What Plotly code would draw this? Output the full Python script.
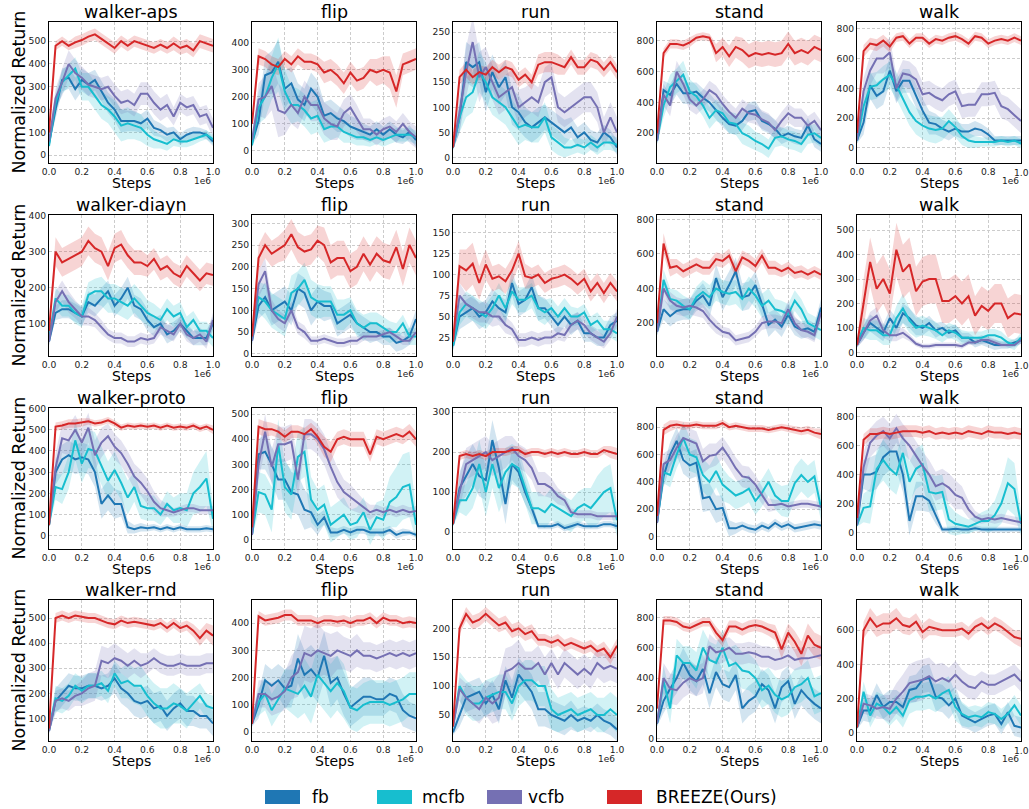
import plotly.graph_objects as go

# ---------------- data ----------------
steps = [0, 40000, 80000, 120000, 160000, 200000, 240000, 280000, 320000, 360000,
         400000, 440000, 480000, 520000, 560000, 600000, 640000, 680000, 720000,
         760000, 800000, 840000, 880000, 920000, 960000, 1000000]

methods = ["fb", "mcfb", "vcfb", "breeze"]
method_labels = ["fb", "mcfb", "vcfb", "BREEZE(Ours)"]

algos = ["aps", "diayn", "proto", "rnd"]
tasks = ["all", "flip", "run", "stand", "walk"]
row_titles = ["walker-aps", "walker-diayn", "walker-proto", "walker-rnd"]
task_titles = ["flip", "run", "stand", "walk"]

x_tickvals = [0, 200000, 400000, 600000, 800000, 1000000]
x_ticktext = ["0.0", "0.2", "0.4", "0.6", "0.8", "1.0"]

# y tick values per panel
yticks = {
    ("aps", "all"): [0, 100, 200, 300, 400, 500],
    ("aps", "flip"): [0, 100, 200, 300, 400],
    ("aps", "run"): [0, 50, 100, 150, 200, 250],
    ("aps", "stand"): [200, 400, 600, 800],
    ("aps", "walk"): [0, 200, 400, 600, 800],
    ("diayn", "all"): [100, 200, 300, 400],
    ("diayn", "flip"): [0, 50, 100, 150, 200, 250, 300],
    ("diayn", "run"): [25, 50, 75, 100, 125, 150],
    ("diayn", "stand"): [200, 400, 600, 800],
    ("diayn", "walk"): [0, 100, 200, 300, 400, 500],
    ("proto", "all"): [0, 100, 200, 300, 400, 500, 600],
    ("proto", "flip"): [0, 100, 200, 300, 400, 500],
    ("proto", "run"): [0, 100, 200, 300],
    ("proto", "stand"): [0, 200, 400, 600, 800],
    ("proto", "walk"): [0, 200, 400, 600, 800],
    ("rnd", "all"): [100, 200, 300, 400, 500],
    ("rnd", "flip"): [0, 100, 200, 300, 400],
    ("rnd", "run"): [50, 100, 150, 200],
    ("rnd", "stand"): [0, 200, 400, 600, 800],
    ("rnd", "walk"): [0, 200, 400, 600],
}

# ---- walker-aps ----
aps_all_fb = [50, 200, 330, 340, 290, 330, 310, 330, 280, 230, 200, 150, 150, 150, 140, 160, 120, 110, 90, 100, 70, 90, 100, 100, 90, 60]
aps_all_fb_sd = [10, 40, 50, 50, 50, 50, 50, 45, 45, 45, 50, 50, 45, 45, 40, 40, 35, 30, 30, 25, 25, 25, 25, 20, 20, 20]
aps_all_mcfb = [40, 230, 320, 350, 380, 300, 300, 260, 220, 200, 170, 130, 140, 130, 120, 90, 70, 60, 50, 70, 60, 60, 70, 80, 90, 70]
aps_all_mcfb_sd = [10, 40, 50, 50, 50, 60, 60, 60, 60, 60, 70, 70, 70, 60, 60, 50, 40, 30, 30, 30, 25, 25, 25, 20, 20, 20]
aps_all_vcfb = [60, 250, 320, 400, 360, 340, 310, 300, 290, 300, 260, 230, 240, 220, 270, 270, 230, 200, 220, 170, 230, 210, 220, 170, 180, 120]
aps_all_vcfb_sd = [10, 40, 60, 60, 60, 50, 50, 50, 50, 50, 50, 50, 50, 50, 50, 50, 50, 50, 50, 40, 40, 40, 40, 40, 40, 40]
aps_all_breeze = [100, 480, 500, 480, 495, 505, 520, 530, 510, 490, 470, 500, 480, 500, 490, 480, 470, 485, 470, 490, 470, 480, 460, 500, 490, 480]
aps_all_breeze_sd = [10, 20, 20, 20, 25, 25, 25, 25, 25, 25, 25, 25, 25, 25, 25, 25, 25, 25, 25, 30, 30, 30, 30, 30, 30, 30]

aps_flip_fb = [30, 110, 280, 290, 330, 230, 250, 190, 170, 230, 200, 130, 140, 120, 110, 90, 80, 70, 60, 80, 60, 80, 60, 50, 70, 40]
aps_flip_fb_sd = [10, 50, 70, 80, 80, 70, 60, 60, 60, 60, 60, 50, 50, 50, 40, 40, 40, 30, 30, 30, 30, 30, 30, 25, 25, 25]
aps_flip_mcfb = [20, 160, 200, 270, 320, 220, 170, 170, 150, 120, 130, 80, 90, 90, 70, 60, 50, 50, 40, 50, 40, 50, 60, 60, 60, 50]
aps_flip_mcfb_sd = [10, 60, 80, 80, 100, 80, 70, 60, 60, 60, 60, 50, 50, 40, 40, 30, 30, 30, 25, 25, 25, 25, 25, 25, 25, 25]
aps_flip_vcfb = [40, 190, 200, 240, 150, 140, 170, 140, 200, 170, 170, 120, 100, 90, 140, 160, 120, 80, 80, 60, 80, 90, 70, 100, 70, 50]
aps_flip_vcfb_sd = [10, 60, 80, 90, 100, 80, 70, 60, 60, 60, 60, 60, 60, 50, 50, 50, 50, 40, 40, 40, 40, 40, 40, 40, 40, 40]
aps_flip_breeze = [100, 350, 340, 320, 310, 340, 320, 350, 330, 330, 320, 290, 300, 280, 250, 290, 260, 270, 300, 290, 300, 290, 220, 320, 330, 340]
aps_flip_breeze_sd = [10, 30, 30, 30, 30, 30, 30, 30, 30, 30, 30, 40, 40, 40, 40, 40, 40, 40, 40, 50, 50, 60, 60, 40, 40, 40]

aps_run_fb = [20, 80, 190, 180, 190, 130, 170, 140, 160, 100, 90, 70, 60, 70, 80, 70, 60, 50, 60, 40, 50, 35, 30, 50, 40, 20]
aps_run_fb_sd = [5, 30, 40, 40, 40, 40, 35, 35, 35, 35, 35, 30, 30, 30, 25, 25, 25, 25, 20, 20, 20, 20, 20, 15, 15, 15]
aps_run_mcfb = [20, 80, 120, 130, 170, 150, 120, 110, 100, 80, 60, 65, 60, 60, 80, 40, 30, 20, 20, 25, 20, 30, 20, 30, 30, 25]
aps_run_mcfb_sd = [5, 30, 40, 40, 40, 40, 35, 35, 35, 35, 35, 30, 30, 30, 30, 25, 25, 20, 15, 15, 15, 15, 15, 15, 15, 15]
aps_run_vcfb = [20, 90, 170, 230, 160, 180, 150, 120, 130, 140, 100, 110, 120, 110, 150, 160, 100, 90, 100, 110, 120, 120, 100, 50, 80, 50]
aps_run_vcfb_sd = [5, 40, 50, 50, 50, 40, 35, 35, 35, 35, 35, 30, 30, 30, 30, 30, 30, 30, 30, 30, 30, 30, 30, 30, 30, 30]
aps_run_breeze = [20, 160, 175, 160, 170, 165, 180, 170, 180, 175, 155, 165, 150, 185, 190, 190, 185, 180, 200, 180, 180, 195, 190, 175, 190, 170]
aps_run_breeze_sd = [5, 15, 15, 15, 15, 15, 15, 15, 15, 15, 15, 15, 15, 20, 20, 20, 20, 15, 15, 15, 15, 15, 15, 15, 15, 15]

aps_stand_fb = [150, 480, 450, 520, 460, 460, 470, 430, 400, 350, 300, 260, 250, 280, 340, 350, 280, 260, 230, 180, 200, 180, 170, 250, 160, 130]
aps_stand_fb_sd = [20, 60, 70, 70, 70, 70, 60, 60, 60, 60, 60, 60, 60, 60, 60, 60, 60, 60, 60, 50, 50, 50, 50, 50, 50, 50]
aps_stand_mcfb = [150, 380, 500, 540, 580, 470, 440, 380, 300, 350, 330, 270, 260, 200, 180, 150, 130, 100, 170, 180, 160, 150, 130, 190, 200, 170]
aps_stand_mcfb_sd = [20, 80, 80, 80, 90, 80, 70, 70, 70, 70, 70, 70, 70, 70, 70, 60, 60, 60, 60, 60, 60, 60, 60, 60, 60, 60]
aps_stand_vcfb = [150, 450, 380, 600, 520, 420, 380, 420, 480, 450, 390, 340, 300, 360, 330, 320, 290, 270, 220, 280, 330, 300, 300, 250, 280, 220]
aps_stand_vcfb_sd = [20, 70, 70, 70, 70, 70, 60, 60, 60, 60, 60, 60, 60, 60, 60, 60, 60, 60, 60, 60, 60, 60, 60, 60, 60, 60]
aps_stand_breeze = [200, 720, 780, 780, 770, 790, 820, 830, 820, 720, 760, 700, 760, 740, 700, 720, 710, 720, 710, 720, 780, 720, 740, 720, 760, 740]
aps_stand_breeze_sd = [20, 30, 30, 30, 30, 30, 25, 25, 25, 60, 60, 70, 70, 80, 80, 80, 80, 80, 80, 80, 80, 80, 80, 80, 80, 80]

aps_walk_fb = [50, 170, 420, 350, 380, 520, 380, 450, 450, 350, 250, 170, 160, 130, 110, 130, 110, 110, 130, 120, 90, 50, 50, 50, 50, 50]
aps_walk_fb_sd = [20, 80, 90, 90, 90, 90, 80, 80, 80, 80, 80, 80, 70, 60, 60, 50, 50, 50, 50, 40, 40, 30, 30, 30, 30, 30]
aps_walk_mcfb = [50, 280, 410, 420, 460, 490, 420, 330, 240, 180, 150, 130, 120, 130, 180, 140, 80, 50, 40, 40, 40, 40, 50, 40, 50, 30]
aps_walk_mcfb_sd = [20, 80, 90, 90, 90, 90, 90, 90, 90, 90, 90, 90, 90, 80, 80, 70, 60, 50, 40, 30, 30, 30, 30, 30, 30, 30]
aps_walk_vcfb = [50, 380, 520, 600, 600, 640, 400, 500, 490, 460, 360, 370, 340, 320, 360, 380, 280, 290, 290, 360, 360, 370, 280, 260, 220, 180]
aps_walk_vcfb_sd = [20, 90, 100, 100, 100, 100, 90, 90, 90, 80, 80, 80, 80, 80, 80, 80, 80, 80, 80, 80, 80, 80, 80, 80, 80, 80]
aps_walk_breeze = [100, 650, 700, 690, 720, 680, 740, 750, 700, 740, 740, 700, 730, 720, 740, 750, 730, 700, 750, 740, 700, 720, 730, 720, 740, 720]
aps_walk_breeze_sd = [20, 40, 40, 40, 40, 40, 30, 30, 30, 30, 30, 30, 30, 30, 30, 30, 30, 30, 30, 30, 30, 30, 30, 30, 30, 30]

# ---- walker-diayn ----
diayn_all_fb = [50, 130, 140, 140, 130, 120, 160, 150, 170, 190, 150, 170, 200, 150, 140, 110, 90, 100, 70, 80, 100, 80, 60, 60, 60, 100]
diayn_all_fb_sd = [10, 20, 25, 25, 25, 25, 30, 30, 30, 30, 30, 30, 30, 30, 30, 30, 25, 25, 25, 25, 20, 20, 20, 20, 20, 20]
diayn_all_mcfb = [60, 170, 150, 150, 130, 120, 180, 190, 190, 170, 170, 160, 150, 170, 150, 130, 120, 110, 140, 120, 130, 90, 110, 80, 80, 60]
diayn_all_mcfb_sd = [10, 30, 30, 30, 30, 30, 35, 35, 40, 40, 40, 40, 40, 40, 40, 35, 35, 30, 30, 30, 30, 30, 25, 25, 25, 25]
diayn_all_vcfb = [50, 160, 190, 160, 140, 120, 120, 110, 90, 70, 60, 60, 50, 50, 60, 55, 60, 90, 80, 70, 100, 70, 60, 70, 50, 110]
diayn_all_vcfb_sd = [10, 30, 30, 30, 25, 25, 25, 20, 20, 15, 15, 15, 15, 15, 15, 15, 15, 20, 20, 20, 20, 20, 20, 20, 20, 20]
diayn_all_breeze = [80, 300, 270, 280, 290, 300, 330, 310, 300, 260, 310, 320, 290, 270, 270, 260, 280, 250, 260, 240, 230, 260, 240, 220, 240, 235]
diayn_all_breeze_sd = [10, 40, 40, 40, 40, 40, 40, 40, 40, 40, 40, 40, 35, 35, 35, 30, 30, 30, 30, 30, 30, 30, 30, 30, 30, 30]

diayn_flip_fb = [30, 110, 130, 100, 110, 120, 100, 150, 140, 100, 120, 110, 110, 70, 80, 90, 70, 60, 50, 50, 40, 40, 25, 30, 40, 80]
diayn_flip_fb_sd = [10, 30, 35, 35, 35, 35, 35, 35, 35, 35, 35, 35, 30, 30, 30, 30, 25, 25, 25, 20, 20, 20, 20, 20, 20, 20]
diayn_flip_mcfb = [40, 130, 120, 100, 90, 80, 140, 150, 170, 130, 120, 120, 120, 90, 90, 100, 70, 60, 70, 70, 60, 50, 50, 70, 40, 40]
diayn_flip_mcfb_sd = [10, 35, 40, 40, 40, 40, 40, 40, 40, 40, 40, 35, 35, 35, 35, 30, 30, 30, 25, 25, 25, 25, 20, 20, 20, 20]
diayn_flip_vcfb = [30, 160, 190, 100, 80, 70, 100, 60, 50, 30, 30, 35, 30, 25, 25, 30, 30, 40, 40, 40, 45, 50, 40, 30, 30, 50]
diayn_flip_vcfb_sd = [10, 30, 30, 25, 20, 20, 20, 15, 15, 10, 10, 10, 10, 10, 10, 10, 10, 10, 10, 10, 10, 10, 10, 10, 10, 10]
diayn_flip_breeze = [40, 220, 250, 230, 240, 250, 275, 245, 235, 240, 260, 250, 210, 220, 220, 190, 200, 230, 205, 230, 215, 210, 245, 195, 250, 220]
diayn_flip_breeze_sd = [10, 30, 30, 30, 30, 35, 35, 35, 35, 35, 35, 40, 40, 40, 40, 40, 40, 40, 40, 40, 40, 40, 40, 40, 40, 40]

diayn_run_fb = [15, 50, 55, 60, 50, 55, 68, 60, 55, 90, 65, 70, 85, 60, 60, 50, 40, 50, 40, 45, 30, 30, 25, 25, 40, 45]
diayn_run_fb_sd = [5, 15, 15, 15, 15, 15, 15, 15, 15, 15, 15, 15, 15, 15, 12, 12, 12, 12, 12, 10, 10, 10, 10, 10, 10, 10]
diayn_run_mcfb = [15, 55, 65, 60, 55, 50, 60, 75, 60, 80, 70, 70, 75, 60, 55, 60, 50, 60, 50, 50, 55, 40, 45, 35, 35, 30]
diayn_run_mcfb_sd = [5, 15, 15, 15, 15, 15, 15, 15, 15, 15, 15, 15, 15, 15, 15, 12, 12, 12, 12, 10, 10, 10, 10, 10, 10, 10]
diayn_run_vcfb = [20, 75, 65, 60, 55, 55, 50, 50, 40, 35, 22, 22, 25, 22, 25, 25, 30, 28, 40, 45, 40, 30, 25, 20, 30, 50]
diayn_run_vcfb_sd = [5, 15, 12, 12, 12, 12, 12, 10, 10, 8, 8, 8, 8, 8, 8, 8, 8, 8, 10, 10, 10, 8, 8, 8, 8, 10]
diayn_run_breeze = [20, 110, 105, 113, 90, 112, 95, 98, 92, 105, 125, 98, 96, 100, 90, 95, 97, 100, 95, 88, 95, 80, 90, 78, 90, 80]
diayn_run_breeze_sd = [5, 20, 25, 25, 20, 18, 15, 15, 15, 15, 15, 15, 12, 12, 12, 12, 12, 12, 12, 12, 12, 12, 12, 12, 12, 12]

diayn_stand_fb = [150, 280, 240, 270, 280, 280, 330, 360, 300, 460, 350, 420, 500, 350, 360, 420, 310, 190, 220, 180, 250, 180, 160, 170, 150, 290]
diayn_stand_fb_sd = [20, 60, 60, 60, 60, 60, 60, 70, 70, 80, 80, 80, 80, 80, 80, 80, 70, 70, 60, 60, 60, 50, 50, 50, 50, 50]
diayn_stand_mcfb = [150, 450, 340, 330, 300, 280, 350, 380, 350, 400, 380, 370, 380, 340, 400, 360, 300, 330, 280, 270, 250, 330, 280, 200, 180, 160]
diayn_stand_mcfb_sd = [20, 60, 60, 60, 60, 60, 60, 70, 70, 70, 70, 70, 70, 70, 70, 70, 70, 70, 60, 60, 60, 60, 60, 60, 60, 60]
diayn_stand_vcfb = [150, 400, 330, 300, 290, 300, 290, 270, 220, 180, 150, 140, 100, 110, 120, 150, 200, 210, 210, 200, 280, 200, 160, 150, 130, 260]
diayn_stand_vcfb_sd = [20, 60, 50, 50, 50, 50, 50, 40, 40, 40, 30, 30, 30, 30, 30, 30, 40, 40, 40, 40, 50, 40, 40, 40, 40, 50]
diayn_stand_breeze = [200, 660, 520, 530, 500, 520, 540, 520, 520, 570, 560, 590, 500, 580, 560, 530, 590, 520, 520, 500, 520, 490, 500, 480, 500, 480]
diayn_stand_breeze_sd = [20, 60, 50, 40, 40, 40, 40, 40, 40, 40, 40, 40, 40, 40, 40, 40, 40, 40, 40, 35, 35, 35, 35, 30, 30, 30]

diayn_walk_fb = [30, 80, 120, 100, 80, 140, 100, 160, 140, 110, 100, 120, 90, 100, 80, 90, 60, 60, 40, 50, 40, 30, 30, 30, 40, 50]
diayn_walk_fb_sd = [10, 30, 35, 35, 35, 35, 40, 40, 40, 40, 30, 30, 30, 25, 25, 25, 20, 20, 20, 20, 20, 20, 15, 15, 15, 15]
diayn_walk_mcfb = [40, 100, 90, 90, 70, 70, 140, 180, 130, 100, 110, 100, 90, 70, 90, 80, 60, 60, 60, 60, 70, 70, 60, 40, 30, 60]
diayn_walk_mcfb_sd = [10, 40, 40, 40, 40, 40, 50, 60, 50, 40, 40, 35, 35, 30, 30, 30, 30, 25, 25, 25, 25, 25, 25, 20, 20, 20]
diayn_walk_vcfb = [30, 80, 130, 150, 90, 70, 70, 80, 60, 35, 25, 25, 30, 30, 30, 30, 25, 40, 40, 50, 50, 40, 30, 30, 30, 50]
diayn_walk_vcfb_sd = [10, 30, 35, 35, 30, 25, 25, 20, 15, 10, 10, 10, 10, 10, 10, 10, 10, 10, 10, 15, 15, 15, 10, 10, 10, 15]
diayn_walk_breeze = [30, 200, 370, 260, 300, 240, 420, 330, 360, 250, 290, 300, 300, 210, 210, 230, 200, 230, 150, 190, 170, 200, 200, 140, 160, 155]
diayn_walk_breeze_sd = [10, 100, 100, 100, 100, 100, 110, 110, 110, 100, 100, 100, 100, 90, 90, 90, 90, 90, 80, 80, 80, 80, 80, 80, 80, 80]

# ---- walker-proto ----
proto_all_fb = [50, 300, 360, 380, 360, 370, 360, 300, 150, 190, 150, 150, 40, 30, 40, 35, 40, 30, 40, 30, 40, 30, 30, 30, 35, 30]
proto_all_fb_sd = [10, 60, 70, 70, 70, 70, 70, 70, 70, 70, 70, 60, 30, 20, 20, 15, 15, 15, 15, 15, 15, 15, 15, 15, 15, 15]
proto_all_mcfb = [50, 230, 220, 300, 450, 340, 410, 400, 330, 260, 310, 250, 180, 230, 140, 130, 130, 100, 150, 120, 130, 120, 200, 230, 270, 80]
proto_all_mcfb_sd = [10, 60, 70, 80, 90, 90, 90, 90, 90, 90, 90, 80, 80, 70, 60, 60, 60, 50, 60, 60, 70, 80, 100, 120, 130, 60]
proto_all_vcfb = [50, 320, 460, 450, 500, 440, 510, 380, 440, 470, 420, 390, 340, 280, 250, 210, 160, 130, 120, 110, 120, 130, 130, 120, 120, 120]
proto_all_vcfb_sd = [10, 70, 70, 70, 70, 70, 70, 70, 70, 60, 60, 60, 60, 60, 60, 60, 50, 40, 30, 20, 20, 20, 20, 20, 20, 20]
proto_all_breeze = [50, 515, 520, 530, 530, 535, 540, 530, 535, 545, 530, 510, 520, 515, 520, 515, 520, 510, 520, 510, 515, 510, 520, 505, 515, 500]
proto_all_breeze_sd = [10, 20, 20, 20, 20, 20, 15, 15, 15, 15, 15, 15, 15, 15, 15, 15, 15, 15, 15, 15, 15, 15, 15, 15, 15, 20]

proto_flip_fb = [20, 340, 350, 300, 240, 240, 190, 180, 120, 110, 60, 90, 30, 30, 40, 30, 40, 40, 30, 30, 30, 40, 20, 30, 30, 20]
proto_flip_fb_sd = [10, 60, 70, 70, 80, 80, 80, 80, 80, 60, 40, 30, 20, 15, 15, 15, 15, 15, 15, 15, 15, 15, 15, 15, 10, 10]
proto_flip_mcfb = [20, 190, 180, 120, 380, 210, 180, 330, 350, 160, 120, 140, 60, 80, 100, 60, 70, 110, 40, 90, 80, 150, 170, 210, 220, 60]
proto_flip_mcfb_sd = [10, 80, 80, 90, 100, 100, 100, 100, 100, 90, 80, 80, 70, 70, 70, 60, 60, 60, 60, 60, 80, 100, 120, 130, 130, 60]
proto_flip_vcfb = [20, 300, 430, 290, 380, 380, 390, 240, 420, 420, 400, 360, 290, 230, 190, 170, 150, 130, 110, 120, 110, 120, 110, 120, 110, 115]
proto_flip_vcfb_sd = [10, 60, 70, 70, 70, 70, 70, 70, 60, 60, 60, 60, 60, 60, 50, 50, 40, 30, 30, 20, 20, 20, 20, 20, 20, 20]
proto_flip_breeze = [50, 450, 440, 440, 430, 410, 430, 430, 420, 440, 410, 370, 350, 400, 410, 400, 400, 400, 340, 410, 400, 410, 420, 410, 430, 400]
proto_flip_breeze_sd = [10, 30, 30, 25, 25, 25, 25, 25, 25, 25, 30, 40, 40, 30, 30, 30, 30, 30, 30, 30, 30, 30, 30, 30, 30, 30]

proto_run_fb = [20, 110, 140, 170, 140, 130, 230, 160, 70, 170, 150, 100, 60, 15, 15, 15, 20, 10, 15, 20, 15, 15, 15, 20, 20, 15]
proto_run_fb_sd = [5, 40, 50, 50, 50, 50, 50, 50, 50, 40, 40, 30, 20, 8, 8, 8, 8, 8, 8, 8, 8, 8, 8, 8, 8, 8]
proto_run_mcfb = [20, 80, 80, 110, 170, 100, 170, 110, 150, 170, 160, 110, 60, 60, 50, 70, 60, 50, 40, 60, 70, 60, 80, 100, 110, 30]
proto_run_mcfb_sd = [5, 30, 40, 50, 60, 60, 60, 60, 60, 50, 50, 40, 40, 40, 40, 40, 40, 40, 40, 40, 40, 50, 60, 60, 60, 40]
proto_run_vcfb = [20, 100, 170, 180, 190, 200, 180, 190, 200, 210, 190, 180, 160, 120, 120, 110, 90, 80, 50, 45, 45, 45, 40, 40, 40, 40]
proto_run_vcfb_sd = [5, 40, 40, 40, 40, 40, 40, 40, 40, 30, 30, 30, 30, 30, 30, 25, 20, 15, 10, 10, 10, 10, 10, 10, 10, 10]
proto_run_breeze = [20, 190, 195, 190, 195, 190, 200, 200, 200, 205, 205, 195, 200, 200, 195, 200, 195, 200, 195, 195, 200, 195, 195, 205, 200, 195]
proto_run_breeze_sd = [5, 10, 10, 10, 10, 10, 10, 10, 10, 10, 10, 10, 10, 10, 10, 10, 10, 10, 10, 10, 10, 10, 10, 10, 15, 15]

proto_stand_fb = [100, 440, 600, 700, 560, 520, 540, 280, 290, 200, 210, 60, 60, 80, 60, 50, 80, 60, 100, 70, 90, 60, 70, 80, 90, 80]
proto_stand_fb_sd = [20, 80, 90, 100, 100, 100, 100, 100, 100, 100, 90, 60, 40, 30, 30, 30, 30, 30, 30, 30, 30, 30, 30, 30, 30, 30]
proto_stand_mcfb = [100, 470, 450, 600, 720, 600, 580, 450, 400, 480, 380, 340, 300, 320, 350, 260, 320, 400, 300, 260, 260, 390, 450, 400, 440, 210]
proto_stand_mcfb_sd = [20, 80, 90, 100, 120, 120, 120, 120, 120, 120, 120, 100, 100, 100, 100, 100, 100, 100, 100, 110, 120, 120, 120, 120, 120, 90]
proto_stand_vcfb = [100, 530, 560, 650, 720, 700, 680, 550, 590, 600, 650, 580, 500, 440, 430, 380, 300, 230, 230, 240, 220, 230, 240, 240, 230, 220]
proto_stand_vcfb_sd = [20, 80, 80, 90, 90, 90, 90, 90, 90, 80, 80, 80, 80, 80, 80, 70, 60, 50, 40, 30, 30, 30, 30, 30, 30, 30]
proto_stand_breeze = [150, 780, 810, 820, 810, 810, 820, 810, 810, 810, 830, 800, 810, 800, 790, 790, 790, 780, 790, 800, 790, 780, 770, 780, 760, 750]
proto_stand_breeze_sd = [20, 40, 40, 30, 30, 25, 25, 25, 25, 25, 25, 25, 25, 25, 25, 25, 25, 25, 25, 25, 25, 30, 30, 30, 30, 40]

proto_walk_fb = [50, 400, 400, 420, 520, 560, 560, 400, 80, 250, 250, 220, 120, 20, 20, 25, 20, 20, 30, 20, 20, 20, 20, 20, 25, 20]
proto_walk_fb_sd = [10, 100, 120, 120, 130, 130, 130, 120, 100, 100, 100, 80, 60, 20, 20, 20, 20, 20, 20, 20, 20, 20, 20, 20, 20, 20]
proto_walk_mcfb = [50, 170, 180, 440, 500, 440, 400, 550, 350, 440, 470, 280, 270, 280, 90, 60, 50, 40, 60, 80, 80, 120, 200, 340, 300, 60]
proto_walk_mcfb_sd = [10, 100, 120, 130, 140, 140, 140, 140, 140, 140, 140, 130, 120, 120, 100, 80, 60, 50, 50, 60, 80, 100, 140, 180, 180, 80]
proto_walk_vcfb = [50, 450, 620, 670, 700, 650, 720, 650, 600, 530, 460, 400, 320, 340, 310, 260, 240, 160, 110, 90, 100, 90, 100, 90, 80, 70]
proto_walk_vcfb_sd = [10, 100, 100, 100, 100, 100, 100, 100, 100, 100, 100, 100, 100, 100, 100, 100, 80, 60, 40, 30, 30, 30, 30, 30, 30, 30]
proto_walk_breeze = [100, 640, 680, 680, 690, 680, 690, 700, 700, 700, 690, 700, 680, 690, 680, 690, 680, 700, 690, 680, 700, 690, 690, 680, 690, 680]
proto_walk_breeze_sd = [10, 40, 40, 40, 40, 40, 40, 40, 40, 40, 40, 40, 40, 40, 40, 40, 40, 40, 40, 40, 40, 40, 40, 40, 40, 40]

# ---- walker-rnd ----
rnd_all_fb = [50, 170, 200, 230, 220, 220, 230, 230, 220, 230, 260, 220, 200, 170, 160, 170, 140, 150, 110, 140, 160, 130, 130, 110, 110, 80]
rnd_all_fb_sd = [10, 50, 50, 50, 50, 50, 50, 50, 50, 50, 60, 60, 60, 60, 60, 60, 60, 60, 60, 60, 60, 60, 60, 50, 50, 50]
rnd_all_mcfb = [60, 180, 170, 190, 230, 210, 230, 230, 240, 210, 280, 240, 250, 230, 230, 190, 160, 140, 140, 160, 150, 130, 160, 190, 150, 140]
rnd_all_mcfb_sd = [10, 50, 50, 50, 50, 50, 50, 50, 50, 50, 50, 60, 70, 70, 80, 80, 80, 80, 80, 80, 70, 70, 60, 50, 50, 50]
rnd_all_vcfb = [50, 170, 180, 170, 190, 200, 220, 230, 330, 320, 340, 330, 310, 330, 310, 320, 340, 320, 310, 310, 320, 310, 310, 310, 320, 320]
rnd_all_vcfb_sd = [10, 40, 40, 40, 40, 50, 60, 60, 60, 60, 60, 50, 50, 50, 50, 40, 40, 40, 40, 40, 40, 40, 40, 40, 40, 40]
rnd_all_breeze = [60, 500, 510, 500, 510, 505, 500, 500, 490, 480, 475, 490, 480, 485, 480, 475, 470, 480, 460, 480, 460, 470, 450, 420, 450, 430]
rnd_all_breeze_sd = [10, 20, 20, 20, 20, 20, 20, 20, 20, 20, 20, 20, 20, 20, 20, 20, 20, 20, 20, 20, 20, 20, 25, 30, 30, 40]

rnd_flip_fb = [30, 100, 190, 170, 190, 160, 170, 270, 210, 230, 200, 280, 180, 200, 140, 90, 110, 130, 130, 120, 120, 140, 130, 80, 60, 50]
rnd_flip_fb_sd = [10, 50, 60, 60, 60, 70, 80, 90, 90, 90, 90, 90, 90, 80, 80, 70, 70, 70, 70, 60, 60, 60, 60, 60, 50, 50]
rnd_flip_mcfb = [50, 110, 140, 80, 120, 160, 150, 140, 170, 130, 210, 180, 150, 180, 150, 90, 80, 100, 110, 110, 110, 100, 110, 120, 140, 140]
rnd_flip_mcfb_sd = [10, 50, 60, 60, 60, 70, 80, 90, 100, 100, 100, 100, 100, 100, 100, 80, 80, 80, 80, 80, 80, 80, 80, 80, 80, 80]
rnd_flip_vcfb = [30, 140, 140, 120, 130, 150, 200, 220, 290, 280, 300, 290, 280, 300, 290, 280, 300, 280, 280, 270, 280, 290, 280, 290, 280, 290]
rnd_flip_vcfb_sd = [10, 50, 50, 60, 60, 70, 80, 90, 100, 100, 100, 80, 80, 70, 60, 60, 60, 50, 50, 50, 50, 50, 50, 50, 50, 50]
rnd_flip_breeze = [30, 425, 410, 415, 420, 430, 430, 410, 410, 410, 400, 410, 410, 405, 410, 400, 410, 410, 420, 400, 420, 410, 410, 400, 405, 400]
rnd_flip_breeze_sd = [10, 20, 20, 20, 20, 20, 20, 20, 20, 20, 20, 20, 20, 20, 20, 20, 20, 20, 20, 20, 20, 20, 20, 20, 20, 20]

rnd_run_fb = [20, 50, 80, 85, 90, 70, 85, 60, 110, 80, 120, 105, 90, 60, 60, 50, 45, 40, 50, 40, 45, 40, 50, 40, 35, 25]
rnd_run_fb_sd = [5, 20, 25, 25, 25, 25, 25, 25, 25, 30, 30, 30, 30, 30, 30, 25, 25, 25, 25, 20, 20, 20, 20, 20, 20, 20]
rnd_run_mcfb = [30, 100, 80, 70, 70, 80, 85, 90, 90, 70, 100, 110, 110, 100, 100, 60, 50, 55, 60, 50, 55, 60, 50, 50, 60, 50]
rnd_run_mcfb_sd = [5, 25, 30, 30, 30, 30, 30, 30, 30, 30, 35, 35, 35, 35, 35, 35, 30, 30, 30, 30, 30, 30, 30, 30, 30, 30]
rnd_run_vcfb = [30, 95, 80, 70, 60, 80, 70, 80, 125, 130, 140, 130, 130, 140, 120, 140, 120, 140, 130, 120, 130, 120, 140, 130, 135, 130]
rnd_run_vcfb_sd = [5, 20, 25, 25, 25, 30, 35, 40, 40, 40, 40, 30, 30, 30, 30, 25, 25, 25, 25, 25, 25, 25, 25, 25, 25, 25]
rnd_run_breeze = [30, 200, 225, 210, 215, 225, 215, 205, 210, 195, 200, 190, 195, 180, 180, 175, 180, 170, 175, 170, 165, 170, 160, 165, 150, 170]
rnd_run_breeze_sd = [5, 10, 12, 12, 12, 12, 12, 12, 12, 12, 12, 12, 12, 10, 10, 10, 10, 10, 10, 10, 10, 10, 10, 12, 12, 12]

rnd_stand_fb = [100, 250, 330, 400, 500, 420, 380, 460, 300, 440, 360, 340, 420, 200, 250, 280, 360, 320, 200, 340, 380, 230, 320, 270, 230, 200]
rnd_stand_fb_sd = [20, 80, 90, 100, 100, 100, 100, 100, 100, 100, 100, 100, 100, 100, 100, 100, 100, 100, 100, 100, 100, 100, 100, 100, 100, 100]
rnd_stand_mcfb = [100, 380, 200, 550, 500, 500, 450, 600, 520, 500, 600, 480, 500, 450, 440, 400, 320, 350, 290, 260, 280, 340, 360, 400, 280, 300]
rnd_stand_mcfb_sd = [20, 100, 100, 110, 110, 110, 120, 120, 120, 120, 120, 120, 120, 120, 120, 120, 120, 120, 120, 120, 120, 120, 120, 120, 120, 120]
rnd_stand_vcfb = [100, 400, 330, 320, 370, 400, 380, 400, 610, 570, 580, 600, 560, 560, 570, 560, 540, 540, 520, 530, 550, 520, 530, 530, 540, 550]
rnd_stand_vcfb_sd = [20, 100, 100, 100, 100, 100, 100, 100, 80, 80, 80, 70, 70, 70, 70, 70, 70, 70, 70, 70, 70, 70, 70, 70, 70, 70]
rnd_stand_breeze = [200, 780, 780, 770, 740, 730, 750, 770, 770, 700, 650, 740, 740, 720, 740, 750, 740, 720, 700, 590, 700, 640, 560, 680, 620, 600]
rnd_stand_breeze_sd = [20, 30, 30, 30, 30, 30, 30, 30, 30, 40, 40, 40, 40, 40, 40, 40, 40, 40, 50, 60, 60, 70, 80, 80, 80, 80]

rnd_walk_fb = [30, 130, 130, 220, 150, 180, 180, 150, 250, 260, 310, 320, 210, 200, 160, 200, 100, 80, 60, 80, 100, 110, 50, 120, 40, 30]
rnd_walk_fb_sd = [10, 60, 70, 70, 70, 70, 70, 70, 80, 80, 80, 80, 80, 80, 80, 70, 70, 60, 60, 60, 60, 60, 60, 60, 60, 60]
rnd_walk_mcfb = [30, 240, 100, 170, 150, 110, 150, 100, 190, 210, 210, 220, 200, 230, 250, 150, 110, 90, 100, 90, 120, 110, 80, 110, 160, 100]
rnd_walk_mcfb_sd = [10, 60, 70, 70, 70, 70, 70, 70, 80, 80, 80, 80, 80, 80, 80, 80, 70, 60, 60, 60, 60, 60, 60, 60, 60, 60]
rnd_walk_vcfb = [30, 170, 160, 140, 150, 140, 200, 240, 290, 300, 310, 330, 300, 320, 300, 340, 300, 270, 260, 300, 280, 280, 300, 320, 340, 300]
rnd_walk_vcfb_sd = [10, 60, 60, 60, 70, 80, 90, 100, 110, 120, 120, 110, 100, 90, 80, 80, 70, 70, 70, 60, 60, 60, 60, 60, 60, 60]
rnd_walk_breeze = [30, 600, 670, 620, 640, 640, 670, 630, 620, 650, 590, 620, 610, 600, 600, 600, 610, 580, 620, 640, 610, 640, 620, 590, 560, 550]
rnd_walk_breeze_sd = [10, 50, 60, 60, 60, 60, 60, 50, 50, 50, 50, 50, 40, 40, 40, 40, 40, 40, 40, 40, 40, 40, 40, 40, 40, 50]

# ---------------- styling / layout ----------------
W, H = 1029, 809
FONT = "DejaVu Sans"
TICK_FONT = dict(family=FONT, size=9.2, color="#222")


def px(x):
    return x / W


def py(y):
    return 1 - y / H


line_colors = {"fb": "#1f77b4", "mcfb": "#17becf", "vcfb": "#7570b3", "breeze": "#d62728"}
fill_colors = {"fb": "rgba(31,119,180,0.2)", "mcfb": "rgba(23,190,207,0.2)",
               "vcfb": "rgba(117,112,179,0.2)", "breeze": "rgba(214,39,40,0.2)"}

# y-axis ranges (axis extents, layout only)
yranges = {
    ("aps", "all"): [-34, 584], ("aps", "flip"): [-45, 477], ("aps", "run"): [-11, 270],
    ("aps", "stand"): [7, 922], ("aps", "walk"): [-101, 845],
    ("diayn", "all"): [10, 402], ("diayn", "flip"): [-5, 319], ("diayn", "run"): [3, 171],
    ("diayn", "stand"): [10, 825], ("diayn", "walk"): [-15, 562],
    ("proto", "all"): [-63, 603], ("proto", "flip"): [-36, 524], ("proto", "run"): [-42, 310],
    ("proto", "stand"): [-91, 940], ("proto", "walk"): [-114, 860],
    ("rnd", "all"): [10, 572], ("rnd", "flip"): [-33, 485], ("rnd", "run"): [5, 249],
    ("rnd", "stand"): [-15, 915], ("rnd", "walk"): [-49, 777],
}

# panel boxes in page pixels
col_left = [49, 252, 453, 657, 857]
row_top = [22, 215, 408, 600]
PW, PH = 164, 141

fig = go.Figure()
annotations = []
shapes = []
layout_axes = {}

for r, algo in enumerate(algos):
    for c, task in enumerate(tasks):
        k = r * 5 + c + 1
        xa = "x" if k == 1 else f"x{k}"
        ya = "y" if k == 1 else f"y{k}"
        xkey = "xaxis" if k == 1 else f"xaxis{k}"
        ykey = "yaxis" if k == 1 else f"yaxis{k}"

        # bands first
        for m in methods:
            mean = globals()[f"{algo}_{task}_{m}"]
            sd = globals()[f"{algo}_{task}_{m}_sd"]
            upper = [a + b for a, b in zip(mean, sd)]
            lower = [a - b for a, b in zip(mean, sd)]
            fig.add_trace(go.Scatter(
                x=steps + steps[::-1], y=upper + lower[::-1], fill="toself",
                fillcolor=fill_colors[m], line=dict(width=0), mode="lines",
                hoverinfo="skip", showlegend=False, xaxis=xa, yaxis=ya))
        for m in methods:
            mean = globals()[f"{algo}_{task}_{m}"]
            fig.add_trace(go.Scatter(
                x=steps, y=mean, mode="lines", line=dict(color=line_colors[m], width=2),
                showlegend=False, xaxis=xa, yaxis=ya))

        common = dict(
            showgrid=True, gridcolor="#cccccc", griddash="3px,2px", gridwidth=1,
            showline=True, linecolor="black", linewidth=1, mirror=True,
            ticks="", zeroline=False, ticklabeloverflow="allow",
            automargin=False, tickfont=TICK_FONT)
        last_col = (c == len(tasks) - 1)
        # the right-most column's final tick label sits at the page edge, where the
        # library drops it; that one label is written as an annotation instead
        xticktext = x_ticktext[:-1] + [""] if last_col else x_ticktext
        layout_axes[xkey] = dict(
            domain=[px(col_left[c]), px(col_left[c] + PW)], anchor=ya, range=[0, 1000000],
            tickvals=x_tickvals, ticktext=xticktext, **common)
        layout_axes[ykey] = dict(
            domain=[py(row_top[r] + PH), py(row_top[r])], anchor=xa, range=yranges[(algo, task)],
            tickvals=yticks[(algo, task)], **common)
        if last_col:
            annotations.append(dict(
                text=x_ticktext[-1], x=x_tickvals[-1], xref=xa,
                y=py(row_top[r] + PH + 9), yref="paper",
                xanchor="center", yanchor="middle", showarrow=False, font=TICK_FONT))

        title = row_titles[r] if c == 0 else task_titles[c - 1]
        cx = px(col_left[c] + PW / 2)
        annotations.append(dict(
            text=title, x=cx, y=py(row_top[r] - 10), xref="paper", yref="paper",
            xanchor="center", yanchor="middle", showarrow=False,
            font=dict(family=FONT, size=17.5, color="black")))
        annotations.append(dict(
            text="Steps", x=cx, y=py(row_top[r] + PH + 20), xref="paper", yref="paper",
            xanchor="center", yanchor="middle", showarrow=False,
            font=dict(family=FONT, size=14, color="black")))
        annotations.append(dict(
            text="1e6", x=px(col_left[c] + PW), y=py(row_top[r] + PH + 18),
            xref="paper", yref="paper", xanchor="right", yanchor="middle", showarrow=False,
            font=dict(family=FONT, size=9, color="#222")))

    annotations.append(dict(
        text="Normalized Return", x=px(18), y=py(row_top[r] + PH / 2),
        xref="paper", yref="paper", xanchor="center", yanchor="middle", textangle=-90,
        showarrow=False, font=dict(family=FONT, size=17.5, color="black")))

# legend (drawn as patches + labels)
leg_box_x = [265, 377, 487, 607]
leg_text_x = [310, 420, 526, 654]
leg_y = 797
for m, lab, bx, tx in zip(methods, method_labels, leg_box_x, leg_text_x):
    shapes.append(dict(type="rect", xref="paper", yref="paper",
                       x0=px(bx), x1=px(bx + 35), y0=py(leg_y + 7), y1=py(leg_y - 7),
                       fillcolor=line_colors[m], line=dict(width=0)))
    annotations.append(dict(text=lab, x=px(tx), y=py(leg_y), xref="paper", yref="paper",
                            xanchor="left", yanchor="middle", showarrow=False,
                            font=dict(family=FONT, size=17, color="black")))

fig.update_layout(
    width=W, height=H, margin=dict(l=0, r=0, t=0, b=0),
    paper_bgcolor="white", plot_bgcolor="white", showlegend=False,
    annotations=annotations, shapes=shapes, **layout_axes)

# remove the page's default body margin so the figure sits at the window origin
fig.write_html("out.html", config={"displayModeBar": False},
               post_script="document.body.style.margin='0px';document.body.style.overflow='hidden';")
